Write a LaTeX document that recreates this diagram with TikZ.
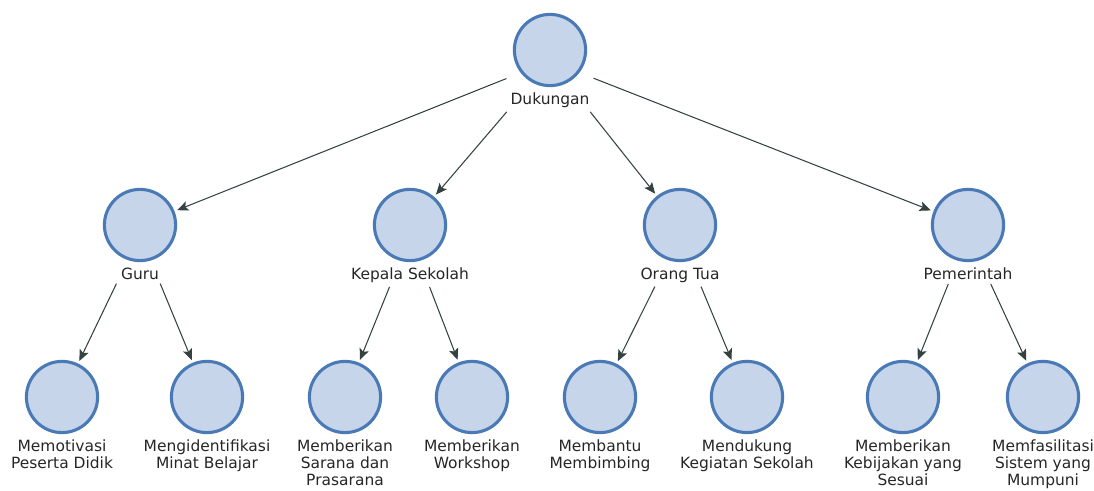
\documentclass[tikz,border=0pt]{standalone}
\usepackage{fontspec}
\setsansfont{DejaVu Sans}
\usetikzlibrary{positioning, arrows.meta, fit}

\definecolor{nodefill}{HTML}{C6D5EA}
\definecolor{nodeline}{HTML}{4A7AB5}
\definecolor{arrowcol}{HTML}{344242}

\begin{document}
\begin{tikzpicture}[
    x=0.025cm, y=-0.025cm,
    >={Stealth[length=2.8mm, width=2.4mm, inset=0.6mm]},
    node distance=0.1cm,
    every node/.style={font=\sffamily\fontsize{11}{12}\selectfont, text=black!85},
    circ/.style={
        circle, draw=nodeline, fill=nodefill, line width=2.2pt,
        minimum size=1.78cm, inner sep=0pt
    },
    lbl/.style={align=center, inner sep=1pt},
    grp/.style={inner sep=1.5pt},
    arrow/.style={->, draw=arrowcol, line width=0.75pt, shorten >=2pt},
]
\useasboundingbox (0,0) rectangle (1094,491);

% --- Root ---
\node[circ] (root) at (550,50) {};
\node[lbl, below=of root] (rootl) {Dukungan};
\node[grp, fit=(root)(rootl)] (rootg) {};

% --- Level 1 ---
\node[circ] (guru) at (140,225) {};
\node[lbl, below=of guru] (gurul) {Guru};
\node[grp, fit=(guru)(gurul)] (gurug) {};

\node[circ] (kepsek) at (410,225) {};
\node[lbl, below=of kepsek] (kepsekl) {Kepala Sekolah};
\node[grp, fit=(kepsek)(kepsekl)] (kepsekg) {};

\node[circ] (ortu) at (680,225) {};
\node[lbl, below=of ortu] (ortul) {Orang Tua};
\node[grp, fit=(ortu)(ortul)] (ortug) {};

\node[circ] (pemda) at (968,225) {};
\node[lbl, below=of pemda] (pemdal) {Pemerintah};
\node[grp, fit=(pemda)(pemdal)] (pemdag) {};

% --- Level 2 ---
\node[circ] (motivasi) at (62,397) {};
\node[lbl, below=of motivasi] {Memotivasi\\Peserta Didik};
\node[circ] (minat) at (207,397) {};
\node[lbl, below=of minat] {Mengidentifikasi\\Minat Belajar};

\node[circ] (sarana) at (345,397) {};
\node[lbl, below=of sarana] {Memberikan\\Sarana dan\\Prasarana};
\node[circ] (workshop) at (472,397) {};
\node[lbl, below=of workshop] {Memberikan\\Workshop};

\node[circ] (bimbing) at (600,397) {};
\node[lbl, below=of bimbing] {Membantu\\Membimbing};
\node[circ] (kegiatan) at (747,397) {};
\node[lbl, below=of kegiatan] {Mendukung\\Kegiatan Sekolah};

\node[circ] (kebijakan) at (903,397) {};
\node[lbl, below=of kebijakan] {Memberikan\\Kebijakan yang\\Sesuai};
\node[circ] (sistem) at (1043,397) {};
\node[lbl, below=of sistem] {Memfasilitasi\\Sistem yang\\Mumpuni};

% --- Arrows ---
\draw[arrow] (rootg) -- (guru);
\draw[arrow] (rootg) -- (kepsek);
\draw[arrow] (rootg) -- (ortu);
\draw[arrow] (rootg) -- (pemda);

\draw[arrow] (gurug) -- (motivasi);
\draw[arrow] (gurug) -- (minat);
\draw[arrow] (kepsekg) -- (sarana);
\draw[arrow] (kepsekg) -- (workshop);
\draw[arrow] (ortug) -- (bimbing);
\draw[arrow] (ortug) -- (kegiatan);
\draw[arrow] (pemdag) -- (kebijakan);
\draw[arrow] (pemdag) -- (sistem);

\end{tikzpicture}
\end{document}
